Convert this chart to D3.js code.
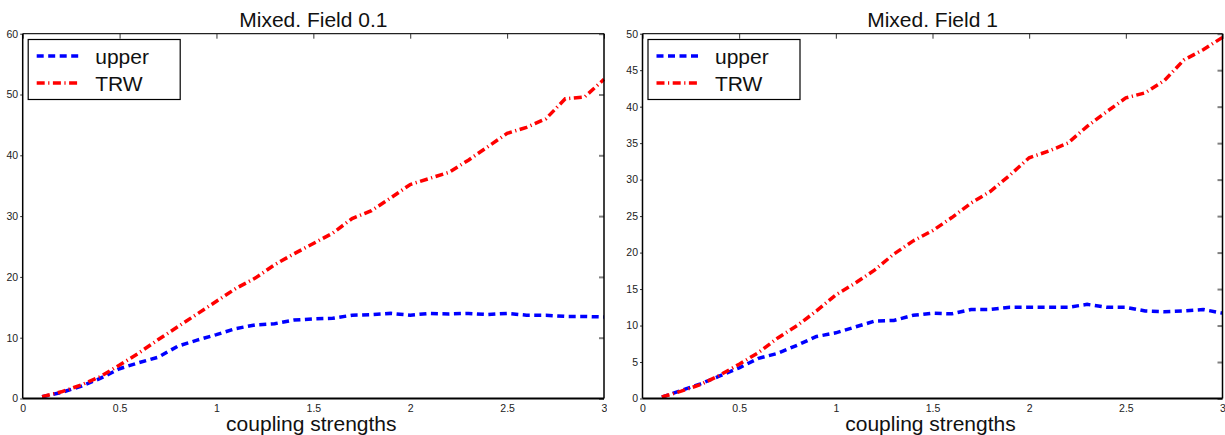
<!DOCTYPE html>
<html>
<head>
<meta charset="utf-8">
<script src="https://cdn.jsdelivr.net/npm/d3@7"></script>
<style>
  body { margin: 0; background: #fff; }
  svg { display: block; font-family: "Liberation Sans", Arial, sans-serif; }
</style>
</head>
<body>
<svg id="chart" width="1225" height="435"></svg>
<script>
// coupling strengths, 0.1 .. 3.0
var couplings = [0.1, 0.2, 0.3, 0.4, 0.5, 0.6, 0.7, 0.8, 0.9, 1.0,
                 1.1, 1.2, 1.3, 1.4, 1.5, 1.6, 1.7, 1.8, 1.9, 2.0,
                 2.1, 2.2, 2.3, 2.4, 2.5, 2.6, 2.7, 2.8, 2.9, 3.0];

// Mixed. Field 0.1
var upperField01 = [0.3, 1.0, 2.0, 3.3, 4.9, 5.9, 6.8, 8.6, 9.6, 10.5,
                    11.5, 12.1, 12.3, 12.9, 13.1, 13.2, 13.7, 13.8, 14.0, 13.7,
                    14.0, 13.9, 14.0, 13.8, 14.0, 13.7, 13.7, 13.5, 13.5, 13.4];
var trwField01 = [0.3, 1.1, 2.2, 3.6, 5.5, 7.5, 9.7, 11.8, 13.9, 16.0,
                  18.1, 19.8, 22.0, 23.8, 25.5, 27.2, 29.6, 30.9, 33.0, 35.2,
                  36.2, 37.2, 39.2, 41.4, 43.6, 44.6, 46.0, 49.3, 49.6, 52.5];

// Mixed. Field 1
var upperField1 = [0.2, 1.1, 2.0, 3.1, 4.2, 5.5, 6.2, 7.3, 8.5, 9.0,
                   9.8, 10.6, 10.7, 11.4, 11.7, 11.6, 12.2, 12.2, 12.5, 12.5,
                   12.5, 12.5, 12.9, 12.5, 12.5, 12.0, 11.9, 12.0, 12.2, 11.7];
var trwField1 = [0.2, 1.0, 1.9, 3.2, 4.7, 6.3, 8.3, 10.0, 12.0, 14.2,
                 15.8, 17.6, 19.8, 21.6, 23.0, 24.8, 26.8, 28.4, 30.6, 33.0,
                 33.9, 35.0, 37.3, 39.3, 41.2, 41.9, 43.6, 46.4, 47.8, 49.5];

var xTicks = [0, 0.5, 1, 1.5, 2, 2.5, 3];
var yTicksField01 = [0, 10, 20, 30, 40, 50, 60];
var yTicksField1 = [0, 5, 10, 15, 20, 25, 30, 35, 40, 45, 50];

var seriesNames = ["upper", "TRW"];

var svg = d3.select("#chart");

var styles = {
  upper: { color: "#0000ff", dash: "7,4.5" },
  TRW:   { color: "#ff0000", dash: "8,3.5,1.2,3.5" }
};

/* draw one subplot: title, axes box, ticks, two lines, legend */
function drawPanel(id, p) {
  var x = d3.scaleLinear().domain([0, 3]).range([p.left, p.right]);
  var y = d3.scaleLinear().domain([0, p.yMax]).range([p.bottom, p.top]);

  // clip so the last x label gets cut at the panel edge like the reference
  svg.append("clipPath").attr("id", "clip" + id)
    .append("rect").attr("x", p.left - 30).attr("y", 0)
      .attr("width", p.right - p.left + 33).attr("height", 435);

  var g = svg.append("g").attr("clip-path", "url(#clip" + id + ")");

  // x tick labels (bottom), top ticks inward
  var bottomAxis = d3.axisBottom(x).tickValues(xTicks)
    .tickSize(0).tickPadding(6).tickFormat(d3.format("~g"));
  var bx = g.append("g").attr("transform", "translate(0," + p.bottom + ")").call(bottomAxis);
  bx.select(".domain").remove();
  bx.selectAll("text").attr("font-size", 10.5).attr("fill", "#222")
    .attr("font-family", "Liberation Sans, Arial, sans-serif");

  var topAxis = d3.axisBottom(x).tickValues(xTicks).tickSize(5).tickFormat("");
  var tx = g.append("g").attr("transform", "translate(0," + p.top + ")").call(topAxis);
  tx.select(".domain").remove();
  tx.selectAll("line").attr("stroke", "#333").attr("stroke-width", 1);

  // y tick labels (left) with tiny outward ticks
  var leftAxis = d3.axisLeft(y).tickValues(p.yTicks).tickSize(2.5).tickPadding(2);
  var ly = g.append("g").attr("transform", "translate(" + p.left + ",0)").call(leftAxis);
  ly.select(".domain").remove();
  ly.selectAll("line").attr("stroke", "#333").attr("stroke-width", 1);
  ly.selectAll("text").attr("font-size", 10.5).attr("fill", "#222")
    .attr("font-family", "Liberation Sans, Arial, sans-serif");

  // right side ticks pointing inward
  var rightAxis = d3.axisRight(y).tickValues(p.yTicks).tickSize(-5).tickFormat("");
  var ry = g.append("g").attr("transform", "translate(" + p.right + ",0)").call(rightAxis);
  ry.select(".domain").remove();
  ry.selectAll("line").attr("stroke", "#808080").attr("stroke-width", 2);

  // lines
  var line = d3.line()
    .x(function(d) { return x(d[0]); })
    .y(function(d) { return y(d[1]); });

  [p.upper, p.trw].forEach(function(vals, i) {
    var st = styles[seriesNames[i]];
    g.append("path")
      .datum(couplings.map(function(c, k) { return [c, vals[k]]; }))
      .attr("d", line)
      .attr("fill", "none")
      .attr("stroke", st.color)
      .attr("stroke-width", 3.5)
      .attr("stroke-dasharray", st.dash);
  });

  // frame
  g.append("line").attr("x1", p.left).attr("x2", p.right).attr("y1", p.top).attr("y2", p.top)
    .attr("stroke", "#222").attr("stroke-width", 1.2);
  g.append("line").attr("x1", p.left).attr("x2", p.right).attr("y1", p.bottom).attr("y2", p.bottom)
    .attr("stroke", "#000").attr("stroke-width", 2);
  g.append("line").attr("x1", p.left).attr("x2", p.left).attr("y1", p.top).attr("y2", p.bottom)
    .attr("stroke", "#000").attr("stroke-width", 1.5);
  g.append("line").attr("x1", p.right).attr("x2", p.right).attr("y1", p.top).attr("y2", p.bottom)
    .attr("stroke", "#000").attr("stroke-width", 1.5);

  // title and x label
  var cx = (p.left + p.right) / 2;
  svg.append("text").attr("x", cx).attr("y", 27).attr("text-anchor", "middle")
    .attr("font-size", 21).attr("fill", "#111").text(p.title);
  svg.append("text").attr("x", cx - 2).attr("y", 431).attr("text-anchor", "middle")
    .attr("font-size", 21).attr("fill", "#111").text("coupling strengths");

  // legend
  var lg = svg.append("g").attr("transform", "translate(" + (p.left + 5.5) + ",39.5)");
  lg.append("rect").attr("width", 152).attr("height", 60)
    .attr("fill", "#fff").attr("stroke", "#000").attr("stroke-width", 1.2);
  seriesNames.forEach(function(name, i) {
    var st = styles[name];
    var yy = 16.5 + i * 27;
    lg.append("line").attr("x1", 8.5).attr("x2", 51).attr("y1", yy).attr("y2", yy)
      .attr("stroke", st.color).attr("stroke-width", 3.5).attr("stroke-dasharray", st.dash);
    lg.append("text").attr("x", 67).attr("y", yy + 8).attr("font-size", 21)
      .attr("fill", "#111").text(name);
  });
}

drawPanel(1, {
  left: 22.7, right: 604, top: 33.7, bottom: 398.5,
  yMax: 60, yTicks: yTicksField01,
  upper: upperField01, trw: trwField01, title: "Mixed. Field 0.1"
});
drawPanel(2, {
  left: 642.5, right: 1222.5, top: 33.7, bottom: 398.5,
  yMax: 50, yTicks: yTicksField1,
  upper: upperField1, trw: trwField1, title: "Mixed. Field 1"
});
</script>
</body>
</html>
